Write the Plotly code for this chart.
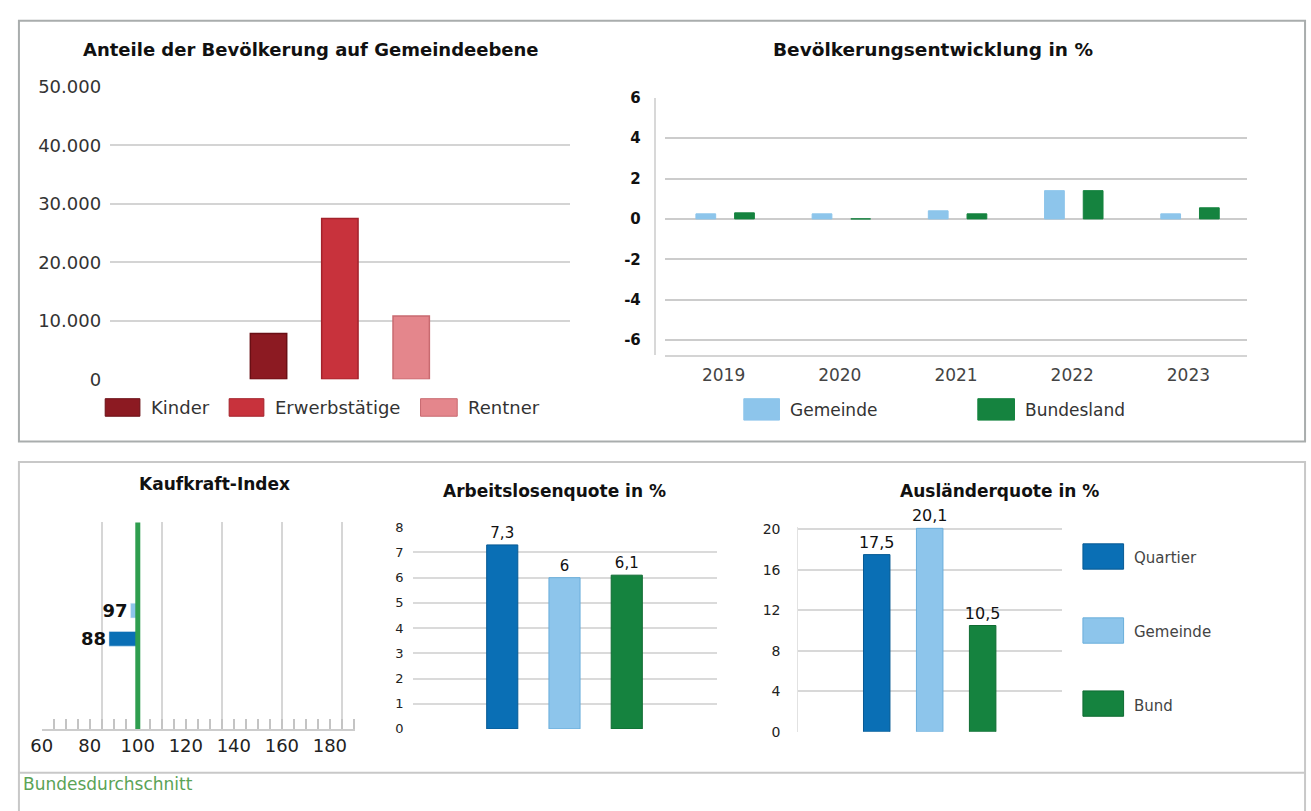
import plotly.graph_objects as go

# ---------------- data ----------------
pop_groups = ["Kinder", "Erwerbstätige", "Rentner"]
pop_values = [7800, 27500, 10800]
pop_colors = ["#8c1a22", "#c8323c", "#e4868c"]
pop_edges = ["#6a0f15", "#a3222b", "#c86a70"]

years = ["2019", "2020", "2021", "2022", "2023"]
dev_series = ["Gemeinde", "Bundesland"]
dev_gemeinde = [0.25, 0.25, 0.4, 1.4, 0.25]
dev_bundesland = [0.3, 0.0, 0.25, 1.4, 0.55]

kk_areas = ["Quartier", "Gemeinde"]
kk_values = [88, 97]
kk_bund = 100

al_areas = ["Quartier", "Gemeinde", "Bund"]
al_values = [7.3, 6.0, 6.1]

aq_areas = ["Quartier", "Gemeinde", "Bund"]
aq_values = [17.5, 20.1, 10.5]

area_colors = ["#0a6fb5", "#8dc5eb", "#15833f"]
area_edges = ["#075a94", "#6aaedb", "#0f6b32"]
dev_colors = ["#8dc5eb", "#15833f"]

titles = ["Anteile der Bevölkerung auf Gemeindeebene", "Bevölkerungsentwicklung in %",
          "Kaufkraft-Index", "Arbeitslosenquote in %", "Ausländerquote in %"]
footer = "Bundesdurchschnitt"

# ---------------- helpers ----------------
W, H = 1311, 811
FONT = "DejaVu Sans"


def fx(x):
    return x / W


def fy(y):
    return 1 - y / H


def dom_x(a, b):
    return [fx(a), fx(b)]


def dom_y(top, bottom):
    return [fy(bottom), fy(top)]


def de(v):
    return f"{v:g}".replace(".", ",")


fig = go.Figure()

# chart 1: population shares
for name, val, col, edge in zip(pop_groups, pop_values, pop_colors, pop_edges):
    fig.add_trace(go.Bar(x=[name], y=[val], width=0.51, name=name,
                         marker=dict(color=col, line=dict(color=edge, width=1.5)),
                         xaxis="x", yaxis="y", showlegend=False))

# chart 2: population development
for name, vals, col, off in zip(dev_series, [dev_gemeinde, dev_bundesland], dev_colors, [-0.238, 0.095]):
    fig.add_trace(go.Bar(x=years, y=vals, width=0.17, offset=off, name=name,
                         marker=dict(color=col, line=dict(color=col, width=1)),
                         xaxis="x2", yaxis="y2", showlegend=False))

# chart 3: purchasing power index (bars from the national average)
for name, val, col in zip(kk_areas, kk_values, area_colors[:2]):
    fig.add_trace(go.Bar(y=[name], x=[val - kk_bund], base=kk_bund, orientation="h",
                         width=0.52, name=name, marker=dict(color=col),
                         text=[str(val)], textposition="outside", constraintext="none",
                         textfont=dict(family=FONT, size=18, color="#111111", weight="bold"),
                         cliponaxis=False, xaxis="x3", yaxis="y3", showlegend=False))
fig.add_trace(go.Scatter(x=[], y=[], xaxis="x6", yaxis="y3", showlegend=False))

# chart 4: unemployment
fig.add_trace(go.Bar(x=al_areas, y=al_values, width=0.5,
                     marker=dict(color=area_colors, line=dict(color=area_edges, width=1)),
                     text=[de(v) for v in al_values], textposition="outside", constraintext="none",
                     textfont=dict(family=FONT, size=15, color="#111111"), cliponaxis=False,
                     xaxis="x4", yaxis="y4", showlegend=False))

# chart 5: foreigner share
fig.add_trace(go.Bar(x=aq_areas, y=aq_values, width=0.5,
                     marker=dict(color=area_colors, line=dict(color=area_edges, width=1)),
                     text=[de(v) for v in aq_values], textposition="outside", constraintext="none",
                     textfont=dict(family=FONT, size=16, color="#111111"), cliponaxis=False,
                     xaxis="x5", yaxis="y5", showlegend=False))

hidden_cat = dict(type="category", showticklabels=False, showgrid=False, zeroline=False,
                  showline=False, ticks="", fixedrange=True)

fig.update_layout(
    width=W, height=H, margin=dict(l=0, r=0, t=0, b=0),
    paper_bgcolor="white", plot_bgcolor="white",
    barmode="overlay", separators=",.",
    font=dict(family=FONT, color="#333333"),
    xaxis=dict(hidden_cat, domain=dom_x(100, 564), anchor="y",
               categoryorder="array", categoryarray=pop_groups, range=[-2.22, 4.23]),
    yaxis=dict(domain=dom_y(78, 378), anchor="x", range=[0, 50000], dtick=10000,
               tickformat=",d", gridcolor="#d4d4d4", gridwidth=1.5, zeroline=False,
               ticks="", ticklabelstandoff=8, tickfont=dict(size=18, color="#333333"),
               fixedrange=True),
    xaxis2=dict(type="category", domain=dom_x(660, 1246), anchor="y2", range=[-0.5, 4.5],
                showgrid=False, zeroline=False, showline=True, linecolor="#d4d4d4",
                linewidth=2, ticks="", ticklabelstandoff=4,
                tickfont=dict(size=17, color="#444444"), fixedrange=True),
    yaxis2=dict(domain=dom_y(89, 353), anchor="free", position=fx(649), range=[-6.73, 6],
                tickvals=[-6, -4, -2, 0, 2, 4, 6], ticktext=["-6", "-4", "-2", "0", "2", "4", "6"],
                gridcolor="#cccccc", gridwidth=2,
                zeroline=False, showline=True, linecolor="#d8d8d8", linewidth=1.5,
                ticks="", ticklabelstandoff=10,
                tickfont=dict(size=15, color="#111111", weight="bold"), fixedrange=True),
    xaxis3=dict(domain=dom_x(31, 347), anchor="y3", range=[60, 190.5],
                tickvals=[60, 80, 100, 120, 140, 160, 180], showgrid=False, zeroline=False,
                showline=True, linecolor="#cccccc", linewidth=1.5,
                ticks="inside", ticklen=10, tickcolor="#c4c4c4", tickwidth=1.5,
                minor=dict(ticks="inside", dtick=5, tick0=60, ticklen=10, tickcolor="#c4c4c4"),
                tickfont=dict(size=18, color="#222222"), fixedrange=True),
    xaxis6=dict(domain=dom_x(31, 347), anchor="y3", overlaying="x3", range=[60, 190.5],
                tick0=60, dtick=25, showgrid=True, gridcolor="#d6d6d6", gridwidth=1.5,
                showticklabels=False, ticks="", zeroline=False, showline=False,
                fixedrange=True),
    yaxis3=dict(hidden_cat, domain=dom_y(525, 737), anchor="x3",
                categoryorder="array", categoryarray=kk_areas, range=[-3.19, 4.12]),
    xaxis4=dict(hidden_cat, domain=dom_x(405, 712), anchor="y4",
                categoryorder="array", categoryarray=al_areas, range=[-1.44, 3.45]),
    yaxis4=dict(domain=dom_y(530, 737), anchor="x4", range=[0, 8], dtick=1,
                gridcolor="#dadada", gridwidth=1.5, zeroline=False, ticks="",
                ticklabelstandoff=8, tickfont=dict(size=13, color="#222222"), fixedrange=True),
    xaxis5=dict(hidden_cat, domain=dom_x(794, 1060), anchor="y5",
                categoryorder="array", categoryarray=aq_areas, range=[-1.48, 3.5]),
    yaxis5=dict(domain=dom_y(530, 740), anchor="x5", range=[0, 20.2],
                tickvals=[0, 4, 8, 12, 16, 20],
                gridcolor="#d8d8d8", gridwidth=1.5, zeroline=False, ticks="",
                showline=True, linecolor="#e2e2e2",
                ticklabelstandoff=14, tickfont=dict(size=14, color="#222222"), fixedrange=True),
)

shapes = []
annotations = []

# frames
shapes.append(dict(type="rect", xref="paper", yref="paper", x0=fx(8), x1=fx(1305), y0=fy(442), y1=fy(10),
                   line=dict(color="#a9adad", width=2), layer="below"))
shapes.append(dict(type="rect", xref="paper", yref="paper", x0=fx(8), x1=fx(1305), y0=fy(830), y1=fy(463),
                   line=dict(color="#c8c8c8", width=2), layer="below"))
shapes.append(dict(type="line", xref="paper", yref="paper", x0=fx(8), x1=fx(1305), y0=fy(782), y1=fy(782),
                   line=dict(color="#c8c8c8", width=2)))

# national average line in purchasing power chart
shapes.append(dict(type="line", xref="x3", yref="y3 domain", x0=kk_bund, x1=kk_bund, y0=0, y1=1,
                   line=dict(color="#2f9e4f", width=5)))

# titles
title_pos = [(303, 40, 18), (930, 40, 18.5), (205, 486, 17), (548, 493, 17), (997, 493, 17)]
for t, (cx, cy, s) in zip(titles, title_pos):
    annotations.append(dict(text=t, x=fx(cx), y=fy(cy), xref="paper", yref="paper",
                            xanchor="center", yanchor="middle", showarrow=False,
                            font=dict(family=FONT, size=s, color="#111111", weight="bold")))

# legend of chart 1
leg1 = [(95, 130), (220, 255), (413, 450)]
for name, col, edge, (a, b) in zip(pop_groups, pop_colors, pop_edges, leg1):
    shapes.append(dict(type="rect", xref="paper", yref="paper", x0=fx(a), x1=fx(b), y0=fy(416), y1=fy(398),
                       fillcolor=col, line=dict(color=edge, width=1)))
    annotations.append(dict(text=name, x=fx(b + 9), y=fy(407), xref="paper", yref="paper",
                            xanchor="left", yanchor="middle", showarrow=False,
                            font=dict(family=FONT, size=18, color="#333333")))

# legend of chart 2
leg2 = [(739, 775), (975, 1012)]
for name, col, (a, b) in zip(dev_series, dev_colors, leg2):
    shapes.append(dict(type="rect", xref="paper", yref="paper", x0=fx(a), x1=fx(b), y0=fy(420), y1=fy(398),
                       fillcolor=col, line=dict(color=col, width=1)))
    annotations.append(dict(text=name, x=fx(b + 9), y=fy(410), xref="paper", yref="paper",
                            xanchor="left", yanchor="middle", showarrow=False,
                            font=dict(family=FONT, size=17, color="#333333")))

# legend of chart 5
leg5 = [(547, 573), (623, 649), (698, 724)]
for name, col, edge, (a, b) in zip(aq_areas, area_colors, area_edges, leg5):
    shapes.append(dict(type="rect", xref="paper", yref="paper", x0=fx(1081), x1=fx(1122), y0=fy(b), y1=fy(a),
                       fillcolor=col, line=dict(color=edge, width=1)))
    annotations.append(dict(text=name, x=fx(1130), y=fy((a + b) / 2 + 2), xref="paper", yref="paper",
                            xanchor="left", yanchor="middle", showarrow=False,
                            font=dict(family=FONT, size=15, color="#444444")))

annotations.append(dict(text=footer, x=fx(10), y=fy(794), xref="paper", yref="paper",
                        xanchor="left", yanchor="middle", showarrow=False,
                        font=dict(family=FONT, size=17, color="#5ba356")))

fig.update_layout(shapes=shapes, annotations=annotations)

post = ("document.documentElement.style.overflow='hidden';"
        "document.body.style.margin='0';document.body.style.overflow='hidden';"
        "var d=document.querySelector('.plotly-graph-div');"
        "if(d){d.style.position='fixed';d.style.left='0px';d.style.top='0px';}")

fig.write_html("out.html", config={"displayModeBar": False}, post_script=post)
